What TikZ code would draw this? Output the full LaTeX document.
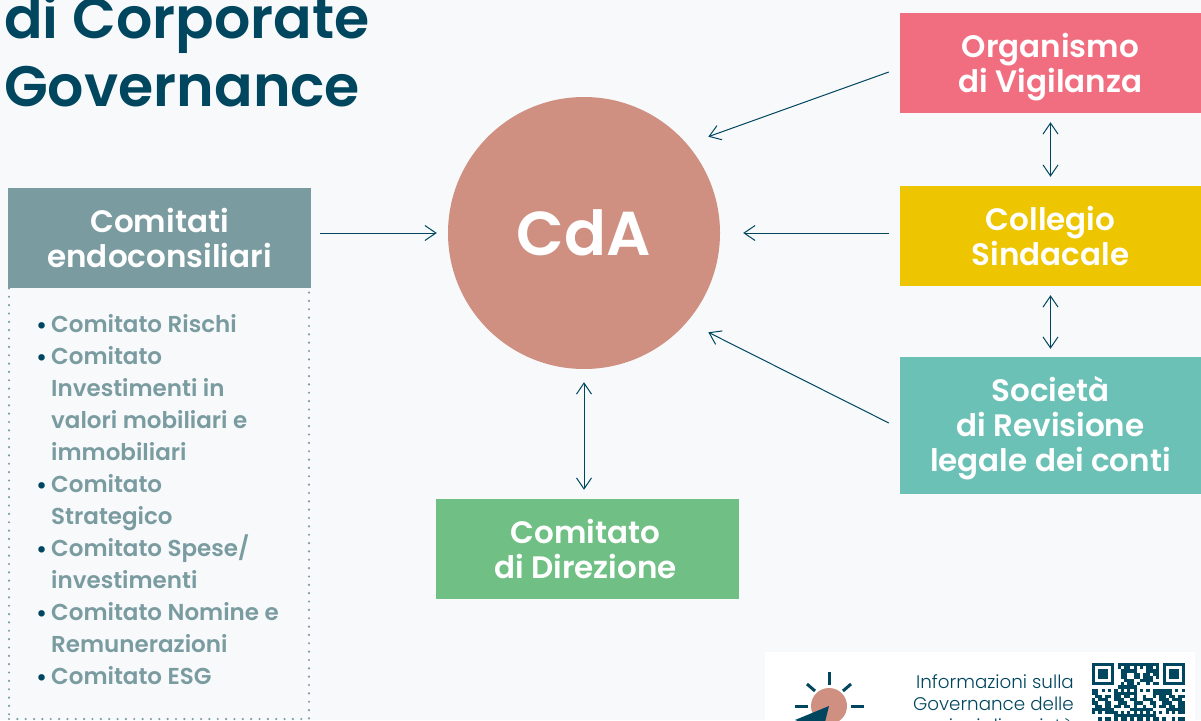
\documentclass[tikz,border=0pt]{standalone}
\usepackage{fontspec}
\setmainfont{Poppins}
\newfontfamily\semibold{Poppins SemiBold}
\newfontfamily\lightface{Poppins Light}
\usetikzlibrary{positioning, arrows.meta}

\definecolor{petrol}{HTML}{00465F}
\definecolor{paper}{HTML}{F7F9FB}
\definecolor{roseBox}{HTML}{F06E80}
\definecolor{yellowBox}{HTML}{EDC500}
\definecolor{tealBox}{HTML}{6BC1B6}
\definecolor{slateBox}{HTML}{7A9CA1}
\definecolor{greenBox}{HTML}{70BF84}
\definecolor{salmon}{HTML}{CF9082}

\newcommand{\bul}{\llap{\textcolor{petrol}{\fontsize{23}{23}\selectfont\raisebox{-0.5pt}{•}}\hspace{4pt}}}
\newcommand{\lowered}[2]{\raisebox{#1}[0pt][0pt]{\begin{tabular}{@{}c@{}}#2\end{tabular}}}

\tikzset{
  organ/.style={rectangle, inner sep=0pt, text=white, align=center, minimum width=303pt, font=\semibold\fontsize{31}{35}\selectfont},
  arr/.style={->, petrol, line width=1pt, >={Straight Barb[length=11pt,width=15pt]}},
  darr/.style={<->, petrol, line width=1pt, >={Straight Barb[length=11pt,width=15pt]}},
  ray/.style={petrol, line width=3pt}
}

\begin{document}
\begin{tikzpicture}[x=1pt, y=-1pt]
            \clip (0,0) rectangle (1201,720);
            \fill[paper] (0,0) rectangle (1201,720);

            % Title
            \node[anchor=base west, inner sep=0pt, text=petrol, font=\semibold\fontsize{57}{66}\selectfont] (title1) at (4,38) {di Corporate};
            \node[anchor=base west, inner sep=0pt, text=petrol, font=\semibold\fontsize{57}{66}\selectfont] (title2) at (4,106) {Governance};

            % Nodes
            \node[circle, fill=salmon, inner sep=0pt, minimum size=272pt, text=white, font=\semibold\fontsize{62}{70}\selectfont] (cda) at (584,233) {CdA};

            \node[organ, fill=roseBox, minimum width=301pt, minimum height=100pt] (odv) at (1050.5,63) {\lowered{-10.75pt}{Organismo\\di Vigilanza}};
            \node[organ, fill=yellowBox, minimum width=301pt, minimum height=100pt] (collegio) at (1050.5,236) {\lowered{-10.75pt}{Collegio\\Sindacale}};
            \node[organ, fill=tealBox, minimum width=301pt, minimum height=137pt] (revisione) at (1050.5,425.5) {\lowered{-9.75pt}{Società\\di Revisione\\legale dei conti}};
            \node[organ, fill=greenBox, minimum height=100pt] (direzione) at (587.5,549) {\lowered{-11.25pt}{Comitato\\di Direzione}\hspace{4pt}};

            \node[rectangle, draw=slateBox, line width=2.4pt, line cap=round, dash pattern=on 0pt off 8.35pt, minimum width=300pt, minimum height=433pt, inner sep=0pt] (listbox) at (159,502.5) {};
            \node[organ, fill=slateBox] (comitati) at (159.5,238) [minimum height=100pt] {\lowered{-10.75pt}{Comitati\\endoconsiliari}};

            \node[anchor=north west, inner sep=0pt, align=left, text=slateBox, font=\semibold\fontsize{23}{32}\selectfont] (lista) at (51,314.5) {\bul Comitato Rischi\\
            \bul Comitato\\
            Investimenti in\\
            valori mobiliari e\\
            immobiliari\\
            \bul Comitato\\
            Strategico\\
            \bul Comitato Spese/\\
            investimenti\\
            \bul Comitato Nomine e\\
            Remunerazioni\\
            \bul Comitato ESG};

            % Footer
            \node[rectangle, fill=white, inner sep=0pt, minimum width=430pt, minimum height=80pt] (footer) at (980,692) {};
            \node[anchor=north east, inner sep=0pt, align=right, text=petrol, font=\lightface\fontsize{18.3}{22.4}\selectfont] (info) at (1074,674) {Informazioni sulla\\Governance delle\\azioni di società};
            \node[circle, fill=salmon, minimum size=36pt, inner sep=0pt] (sun) at (829,706) {};
            \draw[ray] (829,672) -- (829,685);
            \draw[ray] (807,684) -- (815,691);
            \draw[ray] (851,684) -- (843,691);
            \draw[ray] (795,706) -- (808,706);
            \draw[ray] (851,706) -- (864,706);
            \fill[petrol] (829,706) -- (795,720) -- (823,730) -- cycle;

            % QR
            \foreach \i in {0,...,28} {
              \foreach \j in {0,...,18} {
                \pgfmathtruncatemacro{\bit}{mod(mod(\i*\i,17)*\i*7+mod(\j*\j,19)*\j*5+mod(\i*\j,23)*3,7)<4}
                \ifnum\bit=1
                  \fill[petrol] (1092+3.2*\i,663+3.2*\j) rectangle +(3.25,3.25);
                \fi
              }
            }
            \foreach \q in {1092,1162.6} {
              \fill[white] (\q-3.2,663) rectangle +(28.8,25.6);
              \fill[petrol] (\q,663) rectangle +(22.4,22.4);
              \fill[white] (\q+3.2,666.2) rectangle +(16,16);
              \fill[petrol] (\q+6.4,669.4) rectangle +(9.6,9.6);
            }

            % Arrows
            \draw[arr] ([xshift=9pt]comitati.east |- cda.west) -- ([xshift=-11pt]cda.west);
            \draw[arr] ([shift={(-11,9)}]odv.west) -- ([shift={(28,0)}]cda.north east);
            \draw[arr] ([shift={(-11,-3)}]collegio.west) -- ([xshift=23pt]cda.east);
            \draw[arr] ([shift={(-11,-2.5)}]revisione.west) -- ([shift={(28,3)}]cda.south east);
            \draw[darr] ([yshift=-13pt]cda.south) -- ([xshift=-3.5pt,yshift=9pt]direzione.north);
            \draw[darr] ([yshift=-9pt]odv.south) -- ([yshift=9pt]collegio.north);
            \draw[darr] ([yshift=-9pt]collegio.south) -- ([yshift=8pt]revisione.north);
        \end{tikzpicture}
\end{document}
